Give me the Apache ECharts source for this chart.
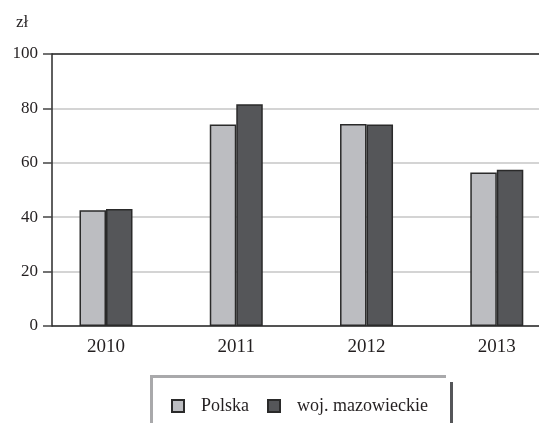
<!DOCTYPE html>
<html>
<head>
<meta charset="utf-8">
<script src="https://cdn.jsdelivr.net/npm/echarts@6/dist/echarts.min.js"></script>
<style>
  html, body { margin: 0; padding: 0; background: #fff; }
  #chart { width: 539px; height: 423px; }
</style>
</head>
<body>
<div id="chart"></div>
<script>
// Average values (zł), Polska vs woj. mazowieckie
const years = ['2010', '2011', '2012', '2013'];
const polska = [42.6, 74.1, 74.3, 56.4];
const mazowieckie = [43.0, 81.5, 74.1, 57.4];
const seriesNames = ['Polska', 'woj. mazowieckie'];
const unitLabel = 'zł';

const FONT = '"Liberation Serif", "DejaVu Serif", serif';
const TXT = '#231f20';
const LIGHT = '#bcbdc1';
const DARK = '#555659';
const EDGE = '#2a2a2a';

const chart = echarts.init(document.getElementById('chart'), null, { renderer: 'canvas' });

const barStyle = (color) => ({ color: color, borderColor: EDGE, borderWidth: 1.5 });

chart.setOption({
  animation: false,
  backgroundColor: '#fff',
  grid: [
    // frame, value scale and gridlines
    { left: 52, right: 0, top: 54, bottom: 97 },
    // category positions for the bars: first and last year sit on the edges
    { left: 106, right: 42.2, top: 54, bottom: 97 }
  ],
  xAxis: [
    {
      gridIndex: 0, type: 'value', min: 0, max: 1, position: 'bottom',
      axisLine: { show: true, lineStyle: { color: EDGE, width: 1.5 } },
      axisTick: { show: false }, axisLabel: { show: false }, splitLine: { show: false }
    },
    {
      gridIndex: 0, type: 'value', min: 0, max: 1, position: 'top',
      axisLine: { show: true, lineStyle: { color: EDGE, width: 1.5 } },
      axisTick: { show: false }, axisLabel: { show: false }, splitLine: { show: false }
    },
    {
      gridIndex: 1, type: 'category', data: years, boundaryGap: false,
      axisLine: { show: false }, axisTick: { show: false },
      axisLabel: { color: TXT, fontFamily: FONT, fontSize: 19, margin: 12 }
    }
  ],
  yAxis: [
    {
      gridIndex: 0, type: 'value', min: 0, max: 100, interval: 20,
      axisLine: { show: true, lineStyle: { color: EDGE, width: 1.5 } },
      axisTick: { show: true, length: 9, lineStyle: { color: '#444', width: 1.5 } },
      axisLabel: { color: TXT, fontFamily: FONT, fontSize: 17, margin: 14 },
      splitLine: { show: true, lineStyle: { color: '#c6c6c6', width: 1.5 } }
    },
    { gridIndex: 1, type: 'value', min: 0, max: 100, show: false }
  ],
  legend: {
    left: 166, top: 392,
    itemWidth: 12, itemHeight: 12, itemGap: 18,
    icon: 'rect',
    textStyle: { color: TXT, fontFamily: FONT, fontSize: 18, padding: [0, 0, 0, 12] },
    data: seriesNames
  },
  series: [
    {
      name: seriesNames[0], type: 'bar', xAxisIndex: 2, yAxisIndex: 1,
      data: polska, barWidth: 26.5, barGap: '0%', itemStyle: barStyle(LIGHT)
    },
    {
      name: seriesNames[1], type: 'bar', xAxisIndex: 2, yAxisIndex: 1,
      data: mazowieckie, barWidth: 26.5, barGap: '0%', itemStyle: barStyle(DARK)
    }
  ],
  graphic: [
    {
      type: 'text', left: 16, top: 14,
      style: { text: unitLabel, fill: TXT, font: '17px ' + FONT }
    },
    // legend frame
    { type: 'rect', shape: { x: 150, y: 375, width: 296, height: 3 }, style: { fill: '#a9a9ab' } },
    { type: 'rect', shape: { x: 150, y: 375, width: 3, height: 48 }, style: { fill: '#a9a9ab' } },
    { type: 'rect', shape: { x: 450, y: 382, width: 3, height: 41 }, style: { fill: '#555659' } }
  ]
});
</script>
</body>
</html>
